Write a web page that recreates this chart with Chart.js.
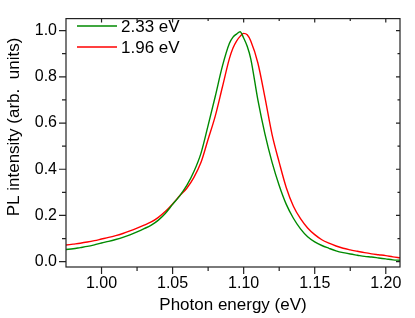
<!DOCTYPE html>
<html lang="en">
<head>
    <meta charset="UTF-8">
    <title>PL spectra</title>
    <script src="https://cdn.jsdelivr.net/npm/chart.js"></script>
    <style>
        html, body {
            margin: 0;
            padding: 0;
            background: #fff;
        }
        canvas {
            display: block;
        }
    </style>
</head>
<body>
    <canvas id="plChart" width="415" height="318"></canvas>

    <script>
        // photon energy (eV)
        const energy = [
            0.975, 0.980, 0.985, 0.990, 0.995, 1.000, 1.005, 1.010, 1.015, 1.020,
            1.025, 1.030, 1.035, 1.040, 1.045, 1.050, 1.055, 1.060, 1.065, 1.070,
            1.075, 1.080, 1.085, 1.090, 1.0925, 1.095, 1.0975, 1.100, 1.1025, 1.105,
            1.110, 1.115, 1.120,
            1.125, 1.130, 1.135, 1.140, 1.145, 1.150, 1.155, 1.160, 1.165, 1.170,
            1.175, 1.180, 1.185, 1.190, 1.195, 1.200, 1.205, 1.210
        ];
        // PL, excitation 2.33 eV (green)
        const pl233 = [
            0.053, 0.056, 0.061, 0.066, 0.073, 0.081, 0.088, 0.096, 0.105, 0.116,
            0.129, 0.143, 0.158, 0.180, 0.210, 0.248, 0.285, 0.330, 0.390, 0.470,
            0.590, 0.715, 0.845, 0.945, 0.972, 0.985, 0.995, 0.968, 0.932, 0.878,
            0.700, 0.552, 0.430,
            0.330, 0.248, 0.188, 0.142, 0.108, 0.086, 0.070, 0.058, 0.047, 0.039,
            0.033, 0.028, 0.023, 0.020, 0.016, 0.012, 0.008, 0.006
        ];
        // PL, excitation 1.96 eV (red)
        const pl196 = [
            0.072, 0.076, 0.080, 0.085, 0.091, 0.098, 0.105, 0.113, 0.122, 0.133,
            0.145, 0.158, 0.172, 0.192, 0.218, 0.250, 0.285, 0.318, 0.365, 0.430,
            0.530, 0.630, 0.755, 0.880, 0.925, 0.955, 0.975, 0.988, 0.982, 0.955,
            0.860, 0.710, 0.550,
            0.430, 0.320, 0.240, 0.186, 0.146, 0.117, 0.095, 0.080, 0.068, 0.058,
            0.051, 0.045, 0.039, 0.034, 0.030, 0.026, 0.021, 0.017
        ];

        const xTicks = [1.00, 1.05, 1.10, 1.15, 1.20];
        const xMinor = [1.025, 1.075, 1.125, 1.175];
        const yTicks = [0.0, 0.2, 0.4, 0.6, 0.8, 1.0];
        const yMinor = [0.1, 0.3, 0.5, 0.7, 0.9];
        const seriesNames = ['2.33 eV', '1.96 eV'];
        const seriesColors = ['#008a00', '#ff0000'];

        const FONT = 'Liberation Sans, Arial, sans-serif';

        function toPoints(ys) {
            return energy.map((e, i) => ({ x: e, y: ys[i] }));
        }

        // frame, mirrored ticks, legend and y title
        const framePlugin = {
            id: 'frame',
            afterDraw(chart) {
                const ctx = chart.ctx;
                const a = chart.chartArea;
                const xs = chart.scales.x;
                const ys = chart.scales.y;
                ctx.save();
                ctx.strokeStyle = '#222';
                ctx.lineWidth = 1.2;
                ctx.strokeRect(a.left, a.top, a.right - a.left, a.bottom - a.top);

                ctx.beginPath();
                xTicks.forEach(v => {
                    const px = xs.getPixelForValue(v);
                    ctx.moveTo(px, a.bottom); ctx.lineTo(px, a.bottom + 7);
                    ctx.moveTo(px, a.top); ctx.lineTo(px, a.top + 4);
                });
                xMinor.forEach(v => {
                    const px = xs.getPixelForValue(v);
                    ctx.moveTo(px, a.bottom); ctx.lineTo(px, a.bottom + 4);
                    ctx.moveTo(px, a.top); ctx.lineTo(px, a.top + 2.5);
                });
                yTicks.forEach(v => {
                    const py = ys.getPixelForValue(v);
                    ctx.moveTo(a.left, py); ctx.lineTo(a.left - 7, py);
                    ctx.moveTo(a.right, py); ctx.lineTo(a.right - 4, py);
                });
                yMinor.forEach(v => {
                    const py = ys.getPixelForValue(v);
                    ctx.moveTo(a.left, py); ctx.lineTo(a.left - 4, py);
                    ctx.moveTo(a.right, py); ctx.lineTo(a.right - 2.5, py);
                });
                ctx.stroke();

                // legend
                ctx.font = '17px ' + FONT;
                ctx.textBaseline = 'middle';
                ctx.textAlign = 'left';
                seriesNames.forEach((name, i) => {
                    const y = 26 + i * 21;
                    ctx.strokeStyle = seriesColors[i];
                    ctx.lineWidth = 1.4;
                    ctx.beginPath();
                    ctx.moveTo(77, y);
                    ctx.lineTo(117, y);
                    ctx.stroke();
                    ctx.fillStyle = '#000';
                    ctx.fillText(name, 121, y + 1);
                });

                // y title
                ctx.translate(14, 127);
                ctx.rotate(-Math.PI / 2);
                ctx.textAlign = 'center';
                ctx.fillText('PL intensity (arb.  units)', 0, 0);
                ctx.restore();
            }
        };

        new Chart(document.getElementById('plChart'), {
            type: 'scatter',
            data: {
                datasets: [
                    {
                        label: seriesNames[0],
                        data: toPoints(pl233),
                        showLine: true,
                        borderColor: seriesColors[0],
                        borderWidth: 1.4,
                        pointRadius: 0,
                        cubicInterpolationMode: 'monotone'
                    },
                    {
                        label: seriesNames[1],
                        data: toPoints(pl196),
                        showLine: true,
                        borderColor: seriesColors[1],
                        borderWidth: 1.4,
                        pointRadius: 0,
                        cubicInterpolationMode: 'monotone'
                    }
                ]
            },
            options: {
                responsive: false,
                animation: false,
                devicePixelRatio: 1,
                layout: { padding: { left: 0, right: 15, top: 6, bottom: 0 } },
                plugins: {
                    legend: { display: false },
                    tooltip: { enabled: false }
                },
                scales: {
                    x: {
                        type: 'linear',
                        min: 0.975,
                        max: 1.21,
                        afterBuildTicks: s => { s.ticks = xTicks.map(v => ({ value: v })); },
                        afterFit: s => { s.height = 51; },
                        grid: { display: false, drawTicks: false },
                        border: { display: false },
                        ticks: {
                            callback: v => v.toFixed(2),
                            font: { family: FONT, size: 16 },
                            color: '#000',
                            padding: 7,
                            maxRotation: 0,
                            autoSkip: false
                        },
                        title: {
                            display: true,
                            text: 'Photon energy (eV)',
                            font: { family: FONT, size: 17 },
                            color: '#000',
                            padding: { top: 0, bottom: 2 }
                        }
                    },
                    y: {
                        type: 'linear',
                        min: -0.023,
                        max: 1.052,
                        afterBuildTicks: s => { s.ticks = yTicks.map(v => ({ value: v })); },
                        afterFit: s => { s.width = 66; },
                        grid: { display: false, drawTicks: false },
                        border: { display: false },
                        ticks: {
                            callback: v => v.toFixed(1),
                            font: { family: FONT, size: 16 },
                            color: '#000',
                            padding: 9,
                            autoSkip: false
                        }
                    }
                }
            },
            plugins: [framePlugin]
        });
    </script>
</body>
</html>
